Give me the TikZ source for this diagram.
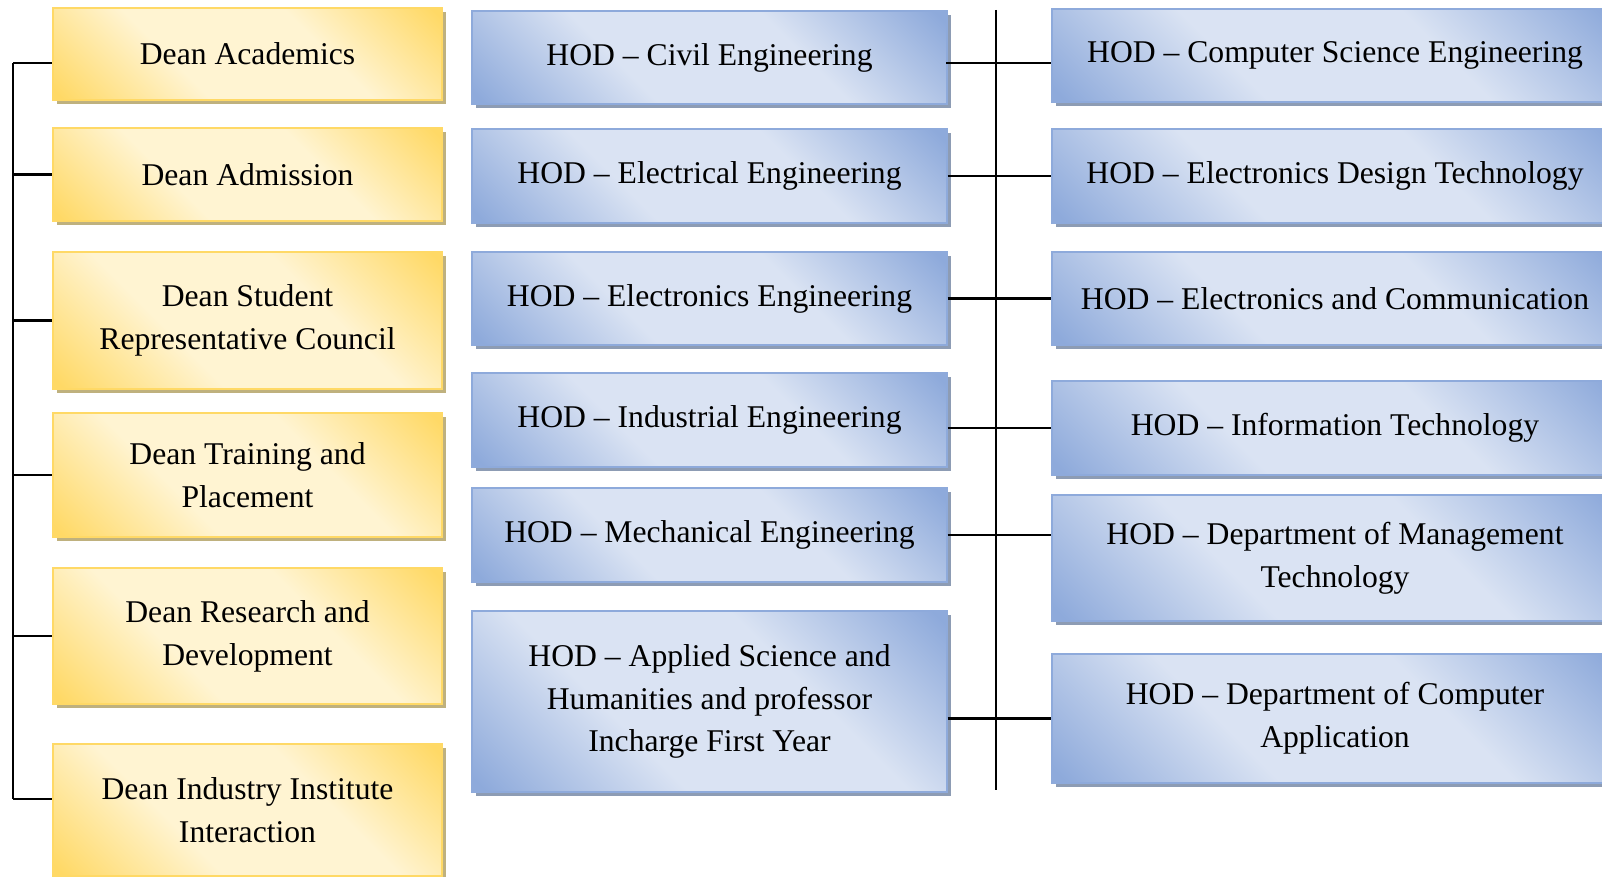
\documentclass[tikz,border=0pt]{standalone}
\usepackage{fontspec}
\setmainfont{Liberation Serif}
\usepackage{tikz}
\usetikzlibrary{shadows}

\definecolor{deangold}{HTML}{FFD966}
\definecolor{deanlight}{HTML}{FFF4D2}
\definecolor{deanshadow}{HTML}{BFB17E}
\definecolor{hodblue}{HTML}{8EAADB}
\definecolor{hodlight}{HTML}{DAE3F3}
\definecolor{hodshadow}{HTML}{8D9CB4}

\pgfdeclarehorizontalshading{deanband}{100bp}{color(0bp)=(deangold); color(16bp)=(deangold); color(38bp)=(deanlight); color(62bp)=(deanlight); color(84bp)=(deangold); color(100bp)=(deangold)}
\pgfdeclarehorizontalshading{hodband}{100bp}{color(0bp)=(hodblue); color(16bp)=(hodblue); color(38bp)=(hodlight); color(62bp)=(hodlight); color(84bp)=(hodblue); color(100bp)=(hodblue)}

\begin{document}
\begin{tikzpicture}[
            x=0.01cm, y=-0.01cm,
            deanbox/.style={rectangle, draw=deangold, line width=0.6pt, shading=deanband, shading angle=45, minimum width=3.89cm, inner sep=0pt, align=center, font=\fontsize{9}{12.2}\selectfont, drop shadow={shadow xshift=0.04cm, shadow yshift=-0.04cm, fill=deanshadow, opacity=1}},
            hodbox/.style={rectangle, draw=hodblue, line width=0.5pt, shading=hodband, shading angle=45, inner sep=0pt, align=center, font=\fontsize{9}{12.2}\selectfont, drop shadow={shadow xshift=0.04cm, shadow yshift=-0.04cm, fill=hodshadow, opacity=1}},
            link/.style={line width=0.6pt, black}
        ]
            \useasboundingbox (0,0) rectangle (1602,877);
            \clip (0,0) rectangle (1602,877);

            % Deans (left column)
            \node[deanbox, minimum height=0.92cm] (acad) at (247.5,54) {Dean Academics};
            \node[deanbox, minimum height=0.93cm] (admis) at (247.5,174.5) {Dean Admission};
            \node[deanbox, minimum height=1.37cm] (src) at (247.5,320.5) {Dean Student\\Representative Council};
            \node[deanbox, minimum height=1.24cm] (tnp) at (247.5,475) {Dean Training and\\Placement};
            \node[deanbox, minimum height=1.36cm] (rnd) at (247.5,636) {Dean Research and\\Development};
            \node[deanbox, minimum height=1.32cm] (iii) at (247.5,810) {Dean Industry Institute\\Interaction};

            % HODs (middle column)
            \node[hodbox, minimum width=4.74cm, minimum height=0.93cm] (civil) at (709.5,57.5) {HOD -- Civil Engineering};
            \node[hodbox, minimum width=4.74cm, minimum height=0.94cm] (elec) at (709.5,176) {HOD -- Electrical Engineering};
            \node[hodbox, minimum width=4.74cm, minimum height=0.93cm] (etrx) at (709.5,298.5) {HOD -- Electronics Engineering};
            \node[hodbox, minimum width=4.74cm, minimum height=0.94cm] (indus) at (709.5,420) {HOD -- Industrial Engineering};
            \node[hodbox, minimum width=4.74cm, minimum height=0.94cm] (mech) at (709.5,535) {HOD -- Mechanical Engineering};
            \node[hodbox, minimum width=4.74cm, minimum height=1.81cm] (ashfy) at (709.5,701.5) {HOD -- Applied Science and\\Humanities and professor\\Incharge First Year};

            % HODs (right column)
            \node[hodbox, minimum width=5.66cm, minimum height=0.93cm] (cse) at (1335,55.5) {HOD -- Computer Science Engineering};
            \node[hodbox, minimum width=5.66cm, minimum height=0.94cm] (edt) at (1335,176) {HOD -- Electronics Design Technology};
            \node[hodbox, minimum width=5.66cm, minimum height=0.93cm] (entc) at (1335,298.5) {HOD -- Electronics and Communication};
            \node[hodbox, minimum width=5.66cm, minimum height=0.94cm] (it) at (1335,428) {HOD -- Information Technology};
            \node[hodbox, minimum width=5.66cm, minimum height=1.26cm] (dmt) at (1335,558) {HOD -- Department of Management\\Technology};
            \node[hodbox, minimum width=5.66cm, minimum height=1.29cm] (dca) at (1335,718.5) {HOD -- Department of Computer\\Application};

            % Left trunk
            \coordinate (ltop) at (13,63);
            \coordinate (lbot) at (13,799);
            \draw[link] (ltop) -- (lbot);
            \draw[link] (ltop) -- (ltop -| acad.west);
            \foreach \b in {admis,src,tnp,rnd}
                \draw[link] (ltop |- \b.west) -- (\b.west);
            \draw[link] (lbot) -- (lbot -| iii.west);

            % Middle trunk
            \coordinate (mtop) at (996,10);
            \coordinate (mbot) at (996,790);
            \coordinate (cstub) at (946,63);
            \draw[link] (mtop) -- (mbot);
            \draw[link] (cstub) -- (cstub -| cse.west);
            \foreach \m/\r in {elec/edt,etrx/entc,mech/dmt}
                \draw[link] (\m.east) -- (\m.east -| \r.west);
            \foreach \m/\r in {indus/it,ashfy/dca}
                \draw[link] (\r.west -| \m.east) -- (\r.west);

        \end{tikzpicture}
\end{document}
